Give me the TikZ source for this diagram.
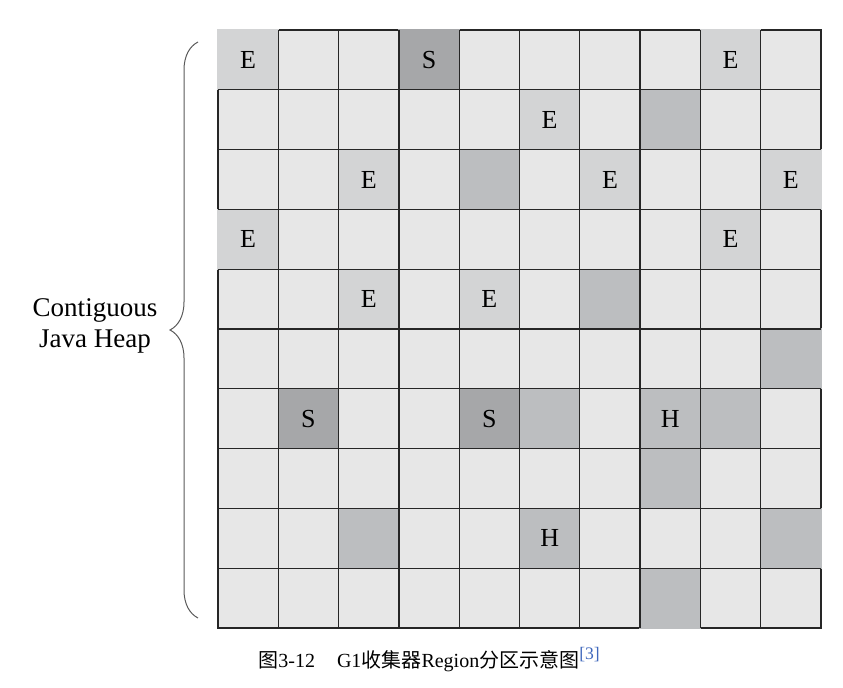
\documentclass[tikz,border=0pt]{standalone}
\usepackage{fontspec}
\setmainfont{Liberation Serif}
\newfontfamily\cjk{Noto Sans CJK SC}
\usetikzlibrary{decorations.pathreplacing}
\definecolor{freecell}{HTML}{E7E7E7}
\definecolor{edencell}{HTML}{D3D4D5}
\definecolor{survcell}{HTML}{A6A7A9}
\definecolor{humcell}{HTML}{BCBEC0}
\definecolor{citeblue}{HTML}{4068BC}

\begin{document}
\begin{tikzpicture}[x=0.5pt, y=-0.5pt,
    R/.style = {rectangle, draw=black!85, line width=0.65pt,% free region
                fill=freecell, minimum width=30.15pt, minimum height=29.9pt,
                inner sep=0pt, outer sep=0pt},
    G/.style = {rectangle, minimum width=30.8pt, minimum height=30.55pt,% used region
                inner sep=0pt, outer sep=0pt, font=\fontsize{13}{13}\selectfont},
    Eden/.style = {G, fill=edencell},
    Surv/.style = {G, fill=survcell},
    Hum/.style  = {G, fill=humcell},
    sep/.style  = {draw=black!85, line width=0.65pt},
                        ]
\useasboundingbox (0,0) rectangle (843,688);
% heap regions
\foreach \r in {0,...,9}
  \foreach \c in {0,...,9}
    \node[R] (c-\r-\c) at ({218+60.3*(\c+0.5)},{30+59.8*(\r+0.5)}) {};
\foreach \r/\c/\t/\k in {0/0/E/Eden, 0/3/S/Surv, 0/8/E/Eden, 1/5/E/Eden, 1/7//Hum,
    2/2/E/Eden, 2/4//Hum, 2/6/E/Eden, 2/9/E/Eden, 3/0/E/Eden, 3/8/E/Eden,
    4/2/E/Eden, 4/4/E/Eden, 4/6//Hum, 5/9//Hum, 6/1/S/Surv, 6/4/S/Surv,
    6/5//Hum, 6/7/H/Hum, 6/8//Hum, 7/7//Hum, 8/2//Hum, 8/5/H/Hum,
    8/9//Hum, 9/7//Hum}% <-- used regions
    \node[\k] (g-\r-\c) at (c-\r-\c) {\t};
\foreach \i in {1,...,9} {
    \draw[sep] (c-0-\i.north west) -- (c-9-\i.south west);
    \draw[sep] (c-\i-0.north west) -- (c-\i-9.north east);
}
% brace and label
\coordinate (bb) at (198,618);
\coordinate (bt) at (198,42);
\draw[decorate, decoration={brace, amplitude=14pt}, draw=black!65, line width=0.5pt]
    (bb) -- (bt);
\node[align=center, font=\fontsize{13.5}{15.5}\selectfont] (heap) at (95,326)
    {Contiguous\\Java Heap};
% caption
\node[anchor=base west, inner sep=0pt, font=\fontsize{10}{11}\selectfont] (cap) at (258,668)
    {{\cjk 图}3-12\hspace{11pt}G1{\cjk 收集器}Region{\cjk 分区示意图}\raisebox{0.4em}{\fontsize{8.8}{9}\selectfont\color{citeblue}[3]}};
\end{tikzpicture}
\end{document}
